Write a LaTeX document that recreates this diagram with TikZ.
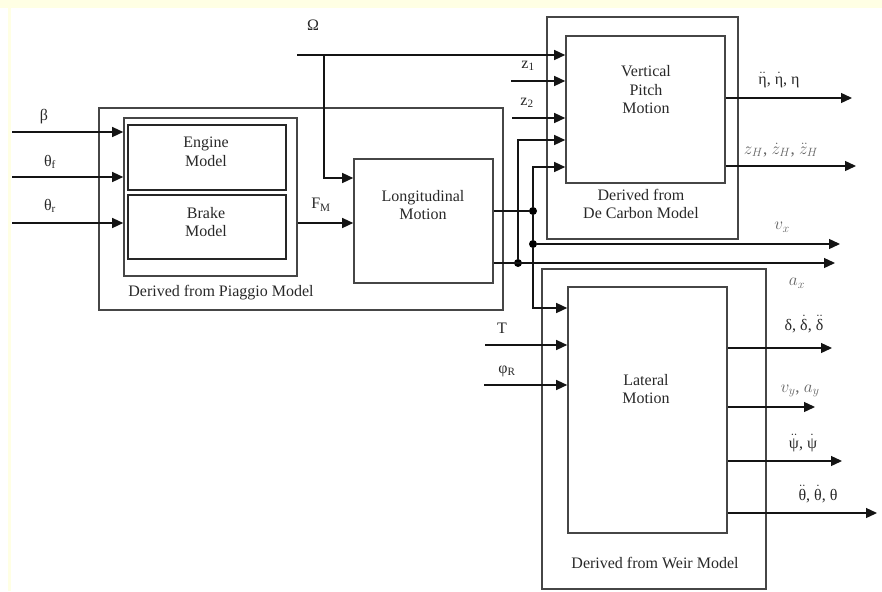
\documentclass[tikz,border=0pt]{standalone}
\usepackage{fontspec}
\setmainfont{Liberation Serif}
\usetikzlibrary{arrows.meta, positioning}
\definecolor{boxcolor}{RGB}{70, 70, 70}
\definecolor{linecolor}{RGB}{20, 20, 20}
\definecolor{textcolor}{RGB}{40, 40, 40}
\definecolor{mathcolor}{RGB}{100, 100, 100}
\definecolor{pageband}{RGB}{255, 255, 228}
\newcommand{\twodot}[1]{$\ddot{\hbox{#1}}$}
\newcommand{\onedot}[1]{$\dot{\hbox{#1}}$}
\tikzset{
  block/.style={rectangle, draw=boxcolor, line width=1.6pt, inner sep=0pt},
  modelblock/.style={block, line width=2.4pt, draw=black!85},
  frameblock/.style={block, line width=1.8pt},
  blocktext/.style={align=center, font=\fontsize{16}{18.5}\selectfont, text=textcolor, inner sep=0pt},
  sig/.style={font=\fontsize{16}{18}\selectfont, text=textcolor, inner sep=0pt},
  msig/.style={sig, font=\fontsize{17}{19}\selectfont, text=mathcolor},
  arr/.style={-{Triangle[length=11pt, width=10pt]}, line width=1.3pt, draw=linecolor},
  wire/.style={line width=1.3pt, draw=linecolor},
  junction/.style={circle, fill=black, inner sep=0pt, minimum size=8pt}
}
\begin{document}
\begin{tikzpicture}[x=1pt, y=-1pt]
  \useasboundingbox (0,0) rectangle (882,591);
  \fill[pageband] (0,0) rectangle (882,8);
  \fill[pageband] (8,0) rectangle (11,591);

  % Piaggio part
  \node[frameblock, minimum width=404pt, minimum height=202pt] (piaggio) at (301,209) {};
  \node[block, minimum width=173pt, minimum height=158pt] (ebframe) at (210.5,197) {};
  \node[modelblock, minimum width=158pt, minimum height=65pt] (engine) at (207,157.5) {};
  \node[modelblock, minimum width=158pt, minimum height=64pt] (brake) at (207,227) {};
  \node[blocktext] (enginetxt) at (206,152) {Engine\\Model};
  \node[blocktext] (braketxt) at (206,222) {Brake\\Model};
  \node[blocktext] (piaggiotxt) at (221,293) {Derived from Piaggio Model};

  \node[block, minimum width=139pt, minimum height=124pt] (longi) at (423.5,221) {};
  \node[blocktext] (longitxt) at (423,205) {Longitudinal\\Motion};

  % De Carbon part
  \node[frameblock, minimum width=191pt, minimum height=222pt] (decarbon) at (642.5,128) {};
  \node[block, minimum width=159pt, minimum height=147pt] (vpm) at (645.5,109.5) {};
  \node[blocktext] (vpmtxt) at (646,90) {Vertical\\Pitch\\Motion};
  \node[blocktext] (decarbontxt) at (641,204) {Derived from\\De Carbon Model};

  % Weir part
  \node[frameblock, minimum width=224pt, minimum height=320pt] (weir) at (654,429) {};
  \node[block, minimum width=159pt, minimum height=246pt] (lateral) at (647.5,410) {};
  \node[blocktext] (lateraltxt) at (646,389) {Lateral\\Motion};
  \node[blocktext] (weirtxt) at (655,563) {Derived from Weir Model};

  % inputs of the Piaggio part
  \coordinate (inbeta) at (12,132);
  \coordinate (inthf) at (12,177);
  \coordinate (inthr) at (12,223);
  \draw[arr] (inbeta) -- (inbeta -| ebframe.west);
  \draw[arr] (inthf) -- (inthf -| ebframe.west);
  \draw[arr] (inthr) -- (inthr -| ebframe.west);
  \draw[arr] (ebframe.east |- inthr) -- (longi.west |- inthr);

  % Omega
  \coordinate (inomega) at (297,55);
  \coordinate (omsplit) at (324,55);
  \coordinate (omlevel) at (0,178);
  \draw[arr] (inomega) -- (inomega -| vpm.west);
  \draw[arr] (omsplit) |- (longi.west |- omlevel);

  \coordinate (inz1) at (511,81);
  \coordinate (inz2) at (512,118);
  \draw[arr] (inz1) -- (inz1 -| vpm.west);
  \draw[arr] (inz2) -- (inz2 -| vpm.west);

  % longitudinal outputs
  \node[junction] (jlong) at (533,211) {};
  \node[junction] (jvx) at (533,244) {};
  \node[junction] (jax) at (518,263) {};
  \coordinate (vlevel4) at (0,140);
  \coordinate (vlevel5) at (0,167);
  \coordinate (latlevel) at (0,308);
  \coordinate (outvx) at (840,244);
  \coordinate (outax) at (835,263);
  \draw[wire] (longi.east |- jlong) -- (jlong);
  \draw[arr] (jlong) |- (vpm.west |- vlevel5);
  \draw[wire] (jlong) -- (jvx);
  \draw[arr] (jvx) |- (lateral.west |- latlevel);
  \draw[arr] (jvx) -- (outvx);
  \draw[arr] (longi.east |- jax) -- (outax);
  \draw[arr] (jax) |- (vpm.west |- vlevel4);

  % vertical outputs
  \coordinate (outeta) at (852,98);
  \coordinate (outzh) at (856,166);
  \draw[arr] (vpm.east |- outeta) -- (outeta);
  \draw[arr] (vpm.east |- outzh) -- (outzh);

  % lateral inputs and outputs
  \coordinate (intorque) at (485,345);
  \coordinate (inphi) at (484,385);
  \draw[arr] (intorque) -- (intorque -| lateral.west);
  \draw[arr] (inphi) -- (inphi -| lateral.west);
  \coordinate (outdelta) at (832,348);
  \coordinate (outvy) at (815,407);
  \coordinate (outpsi) at (842,461);
  \coordinate (outtheta) at (877,513);
  \draw[arr] (lateral.east |- outdelta) -- (outdelta);
  \draw[arr] (lateral.east |- outvy) -- (outvy);
  \draw[arr] (lateral.east |- outpsi) -- (outpsi);
  \draw[arr] (lateral.east |- outtheta) -- (outtheta);

  % signal labels
  \node[sig] (lbeta) at (44,117) {β};
  \node[sig] (lthf) at (50,162) {θ\textsubscript{f}};
  \node[sig] (lthr) at (50,206) {θ\textsubscript{r}};
  \node[sig] (lomega) at (313,25) {Ω};
  \node[sig] (lfm) at (321,205) {F\textsubscript{M}};
  \node[sig] (lz1) at (528,66) {z\textsubscript{1}};
  \node[sig] (lz2) at (527,103) {z\textsubscript{2}};
  \node[sig] (leta) at (779,80) {\twodot{η}, \onedot{η}, η};
  \node[msig] (lzh) at (781,150) {$z_H$, $\dot z_H$, $\ddot z_H$};
  \node[msig] (lvx) at (782,227) {$v_x$};
  \node[msig] (lax) at (797,283) {$a_x$};
  \node[sig] (ltorque) at (502,328) {T};
  \node[sig] (lphi) at (507,371) {φ\textsubscript{R}};
  \node[sig] (ldelta) at (804,324) {δ, \onedot{δ}, \twodot{δ}};
  \node[msig] (lvy) at (800,391) {$v_y$, $a_y$};
  \node[sig] (lpsi) at (803,443) {\twodot{ψ}, \onedot{ψ}};
  \node[sig] (ltheta) at (818,494) {\twodot{θ}, \onedot{θ}, θ};
\end{tikzpicture}
\end{document}
